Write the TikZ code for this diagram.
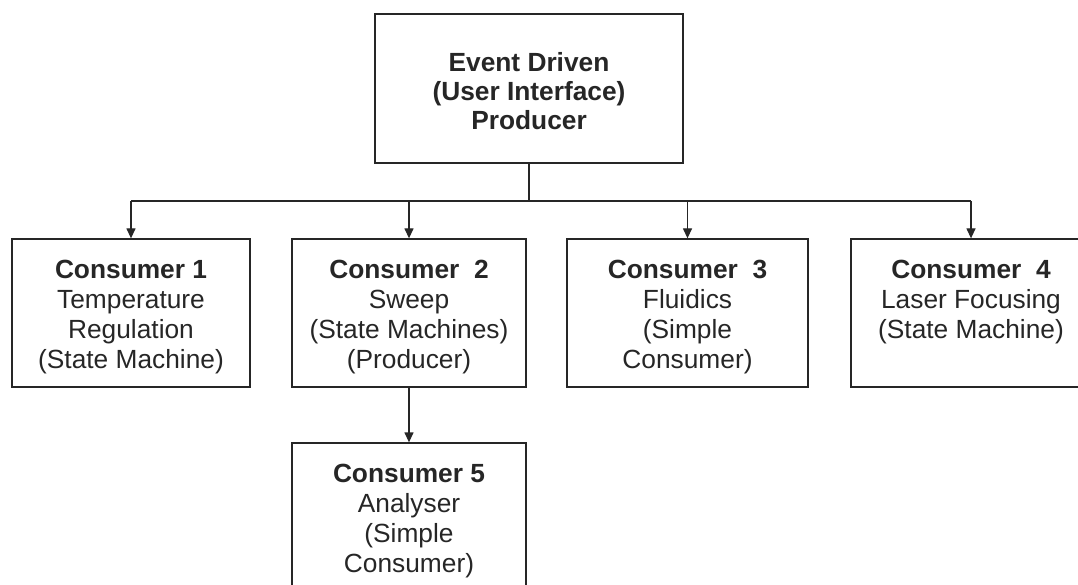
\documentclass[tikz,border=0pt]{standalone}
\usepackage{fontspec}
\setmainfont{Liberation Sans}
\usetikzlibrary{arrows.meta}
\begin{document}
\begin{tikzpicture}[x=1pt,y=-1pt,
  line width=1.3pt, draw=black!85,
  box/.style={draw=black!85, line width=1.3pt, rectangle, inner sep=0pt},
  txt/.style={align=center, inner sep=0pt, text=black!85, font=\fontsize{26.3}{30}\selectfont},
  toptxt/.style={align=center, inner sep=0pt, text=black!85, font=\fontsize{26.3}{29}\selectfont\bfseries},
  arr/.style={-{Triangle[length=10pt,width=9pt]}, draw=black!85, line width=1.3pt}]
\useasboundingbox (0,0) rectangle (1078,585);
% top box
\node[box, minimum width=308pt, minimum height=149pt] (top) at (529,88.5) {};
\node[toptxt] (topt) at (529,91) {Event Driven\\(User Interface)\\Producer};
% consumer boxes
\node[box, minimum width=238pt, minimum height=148pt] (c1) at (131,313) {};
\node[box, minimum width=234pt, minimum height=148pt] (c2) at (409,313) {};
\node[box, minimum width=241pt, minimum height=148pt] (c3) at (687.5,313) {};
\node[box, minimum width=240pt, minimum height=148pt] (c4) at (971,313) {};
\node[box, minimum width=234pt, minimum height=148pt] (c5) at (409,517) {};
% texts
\node[txt, anchor=north] (c1t) at ([yshift=-18pt]c1.north) {\strut\textbf{Consumer 1}\\Temperature\\Regulation\\(State Machine)};
\node[txt, anchor=north] (c2t) at ([yshift=-18pt]c2.north) {\strut\textbf{Consumer\ \ 2}\\Sweep\\(State Machines)\\(Producer)};
\node[txt, anchor=north] (c3t) at ([yshift=-18pt]c3.north) {\strut\textbf{Consumer\ \ 3}\\Fluidics\\(Simple\\Consumer)};
\node[txt, anchor=north] (c4t) at ([yshift=-18pt]c4.north) {\strut\textbf{Consumer\ \ 4}\\Laser Focusing\\(State Machine)};
\node[txt, anchor=north] (c5t) at ([yshift=-18pt]c5.north) {\strut\textbf{Consumer 5}\\Analyser\\(Simple\\Consumer)};
% connectors
\coordinate (bus) at (529,201);
\draw (top.south) -- (bus);
\draw (c1.north |- bus) -- (c4.north |- bus);
\draw[arr] (c1.north |- bus) -- (c1.north);
\draw[arr] (c2.north |- bus) -- (c2.north);
\draw[arr] (c3.north |- bus) -- (c3.north);
\draw[arr] (c4.north |- bus) -- (c4.north);
\draw[arr] (c2.south) -- (c5.north);
\end{tikzpicture}
\end{document}
